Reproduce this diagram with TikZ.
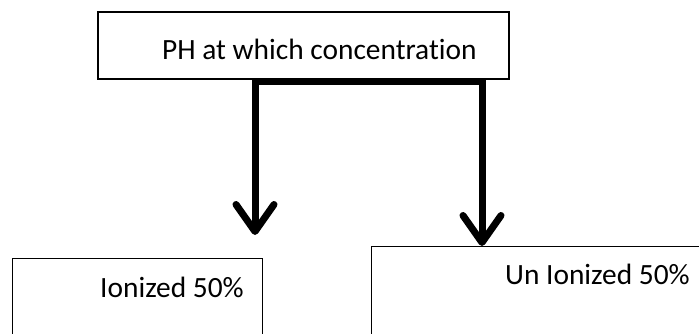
\documentclass[tikz,border=0pt]{standalone}
\usepackage{fontspec}
\setmainfont{Carlito}[Ligatures=NoCommon]
\usetikzlibrary{arrows.meta}

\begin{document}
\begin{tikzpicture}[x=1pt, y=-1pt]
            \tikzstyle{box}=[rectangle, draw, line width=1.3pt, inner sep=0pt]
            \tikzstyle{txt}=[inner sep=0pt, anchor=base west,
            font=\fontsize{29.4}{34}\selectfont]
            \tikzstyle{flow}=[line width=7pt,
            -{Straight Barb[length=27pt, width=38pt, round]}]
            \clip (0,0) rectangle (699,334);
            \useasboundingbox (0,0) rectangle (699,334);

            % boxes
            \node[box, minimum width=411pt, minimum height=67pt] (ph) at (303.5,45.5) {};
            \node[box, minimum width=250pt, minimum height=110pt, anchor=north west] (ion) at (12,258) {};
            \node[box, minimum width=360pt, minimum height=120pt, anchor=north west] (union) at (371,246) {};

            % texts
            \node[txt] (phtxt) at (162,60) {PH at which concentration};
            \node[txt] (iontxt) at (100,297) {Ionized 50\%};
            \node[txt] (uniontxt) at (505,284) {Un Ionized 50\%};

            % arrows
            \coordinate (mid) at (368.5,82);
            \coordinate (tipl) at (255,235);
            \coordinate (tipr) at (482,0 |- union.north);
            \draw[flow] (mid) -| (tipl);
            \draw[flow] (mid) -| (tipr);
        \end{tikzpicture}
\end{document}
